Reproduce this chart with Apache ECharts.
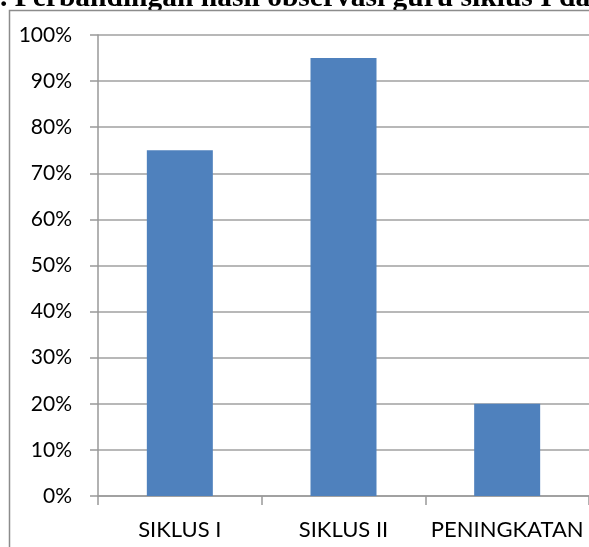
<!DOCTYPE html>
<html><head><meta charset="utf-8">
<script src="https://cdn.jsdelivr.net/npm/echarts@6/dist/echarts.min.js"></script>
<style>html,body{margin:0;padding:0;background:#fff}#c{width:589px;height:547px}</style>
</head><body><div id="c"></div>
<script>
var titleText = '. Perbandingan hasil observasi guru siklus I dan II';
var categories = ['SIKLUS I', 'SIKLUS II', 'PENINGKATAN'];
var values = [0.75, 0.95, 0.20];
var chart = echarts.init(document.getElementById('c'));
chart.setOption({
  animation: false,
  graphic: [
    {type: 'text', x: 0, y: -17, z: -2, style: {text: titleText, fontSize: 29.5, fontWeight: 'bold', fontFamily: 'Liberation Serif', fill: '#000', verticalAlign: 'top'}},
    {type: 'rect', z: -1, shape: {x: 9.5, y: 10.5, width: 800, height: 800}, style: {fill: '#fff', stroke: '#8c8c8c', lineWidth: 1.5}}
  ],
  grid: {left: 98, top: 35, bottom: 51, width: 498},
  xAxis: {
    type: 'category', data: categories,
    axisLine: {lineStyle: {color: '#999', width: 1.5}},
    axisTick: {show: true, length: 9, lineStyle: {color: '#999', width: 1.5}},
    axisLabel: {color: '#000', fontSize: 22, fontFamily: 'Lato', margin: 23, interval: 0, hideOverlap: false}
  },
  yAxis: {
    type: 'value', min: 0, max: 1, interval: 0.1,
    axisLine: {show: true, lineStyle: {color: '#999', width: 1.5}},
    axisTick: {show: true, length: 8, lineStyle: {color: '#999', width: 1.5}},
    splitLine: {lineStyle: {color: '#a0a0a0', width: 1.5}},
    axisLabel: {color: '#000', fontSize: 21, fontFamily: 'Lato', margin: 26,
      formatter: function (v) { return Math.round(v * 100) + '%'; }}
  },
  series: [{type: 'bar', data: values, barWidth: 66, itemStyle: {color: '#4f81bd'}}]
});
</script></body></html>
